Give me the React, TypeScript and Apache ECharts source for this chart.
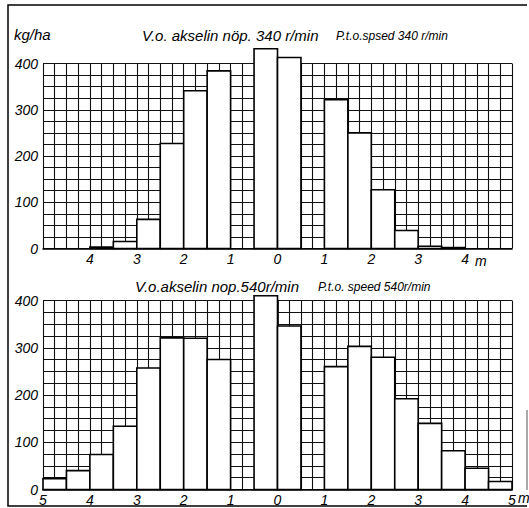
import React, { useEffect, useRef } from "react";
import * as echarts from "echarts";

// Bin start positions (m) and deposited amount (kg/ha), bins are 0.5 m wide
const BIN_WIDTH = 0.5;
const topBinStarts = [-4, -3.5, -3, -2.5, -2, -1.5, -0.5, 0, 1, 1.5, 2, 2.5, 3, 3.5];
const topValues = [3, 15, 63, 227, 341, 384, 432, 413, 322, 250, 127, 39, 5, 2];
const bottomBinStarts = [-5, -4.5, -4, -3.5, -3, -2.5, -2, -1.5, -0.5, 0, 1, 1.5, 2, 2.5, 3, 3.5, 4, 4.5];
const bottomValues = [23, 40, 74, 134, 257, 321, 320, 275, 410, 346, 260, 303, 280, 192, 140, 82, 45, 17];

const yTicks = [0, 100, 200, 300, 400];
const topTitle = "V.o. akselin nöp. 340 r/min";
const topSubtitle = "P.t.o.spsed 340 r/min";
const bottomTitle = "V.o.akselin nop.540r/min";
const bottomSubtitle = "P.t.o. speed 540r/min";
const yUnit = "kg/ha";
const xUnit = "m";

const FONT = "'Liberation Sans', Arial, sans-serif";

export default function App() {
  const ref = useRef<HTMLDivElement>(null);
  useEffect(() => {
    if (!ref.current) return;
    const chart = echarts.init(ref.current, null, { renderer: "svg" });
    const mk = (starts: number[], vals: number[]) =>
      starts.map((s, i) => [s, s + BIN_WIDTH, vals[i]]);

    const renderItem = (params: any, api: any) => {
      const p0 = api.coord([api.value(0), api.value(2)]);
      const p1 = api.coord([api.value(1), 0]);
      return {
        type: "rect",
        shape: { x: p0[0], y: p0[1], width: p1[0] - p0[0], height: p1[1] - p0[1] },
        style: { fill: "#fff", stroke: "#000", lineWidth: 1.6 },
      };
    };

    const xAxisBase = (showEnds: boolean) => ({
      type: "value",
      min: -5,
      max: 5,
      interval: 0.25,
      axisLine: { show: true, onZero: false, lineStyle: { color: "#000", width: 1.6 } },
      axisTick: { show: false },
      splitLine: { show: true, lineStyle: { color: "#111", width: 1.1 } },
      axisLabel: {
        color: "#000",
        fontFamily: FONT,
        fontStyle: "italic",
        fontSize: 14,
        margin: 3,
        showMinLabel: true,
        showMaxLabel: true,
        formatter: (v: number) => {
          if (!Number.isInteger(v)) return "";
          if (!showEnds && Math.abs(v) === 5) return "";
          return String(Math.abs(v));
        },
      },
    });

    const yAxisBase = () => ({
      type: "value",
      min: 0,
      max: 400,
      interval: 25,
      axisLine: { show: true, lineStyle: { color: "#000", width: 1.6 } },
      axisTick: { show: true, length: 3, lineStyle: { color: "#000" } },
      splitLine: { show: true, lineStyle: { color: "#111", width: 1.1 } },
      axisLabel: {
        color: "#000",
        fontFamily: FONT,
        fontStyle: "italic",
        fontSize: 14,
        margin: 5,
        formatter: (v: number) => (yTicks.includes(v) ? String(v) : ""),
      },
    });

    const textStyle = (size: number) => ({
      fill: "#000",
      font: `italic ${size}px ${FONT}`,
      textVerticalAlign: "middle",
    });

    chart.setOption({
      animation: false,
      backgroundColor: "#fff",
      grid: [
        { left: 43, right: 17, top: 63.5, height: 185 },
        { left: 43, right: 17, top: 300.5, height: 189 },
      ],
      xAxis: [
        { ...xAxisBase(false), gridIndex: 0 },
        { ...xAxisBase(true), gridIndex: 1 },
      ],
      yAxis: [
        { ...yAxisBase(), gridIndex: 0 },
        { ...yAxisBase(), gridIndex: 1 },
      ],
      series: [
        {
          type: "custom",
          xAxisIndex: 0,
          yAxisIndex: 0,
          clip: false,
          renderItem,
          encode: { x: [0, 1], y: 2 },
          data: mk(topBinStarts, topValues),
        },
        {
          type: "custom",
          xAxisIndex: 1,
          yAxisIndex: 1,
          clip: false,
          renderItem,
          encode: { x: [0, 1], y: 2 },
          data: mk(bottomBinStarts, bottomValues),
        },
      ],
      graphic: [
        {
          type: "polyline",
          shape: { points: [[527, 5], [8, 5], [8, 506], [527, 506]] },
          style: { stroke: "#000", lineWidth: 1.5, fill: null },
          silent: true,
        },
        {
          type: "line",
          shape: { x1: 527, y1: 410, x2: 527, y2: 490 },
          style: { stroke: "#555", lineWidth: 1 },
          silent: true,
        },
        { type: "text", x: 14, y: 34, style: { text: yUnit, ...textStyle(15) } },
        { type: "text", x: 142, y: 35, style: { text: topTitle, ...textStyle(15) } },
        { type: "text", x: 336, y: 36, style: { text: topSubtitle, ...textStyle(12) } },
        { type: "text", x: 475, y: 261, style: { text: xUnit, ...textStyle(14) } },
        { type: "text", x: 135, y: 286, style: { text: bottomTitle, ...textStyle(15) } },
        { type: "text", x: 318, y: 287, style: { text: bottomSubtitle, ...textStyle(12) } },
        { type: "text", x: 518, y: 498, style: { text: xUnit, ...textStyle(14) } },
      ],
    });
    return () => chart.dispose();
  }, []);
  return (
    <div
      ref={ref}
      style={{ position: "fixed", left: 0, top: 0, width: 529, height: 508, background: "#fff" }}
    />
  );
}
